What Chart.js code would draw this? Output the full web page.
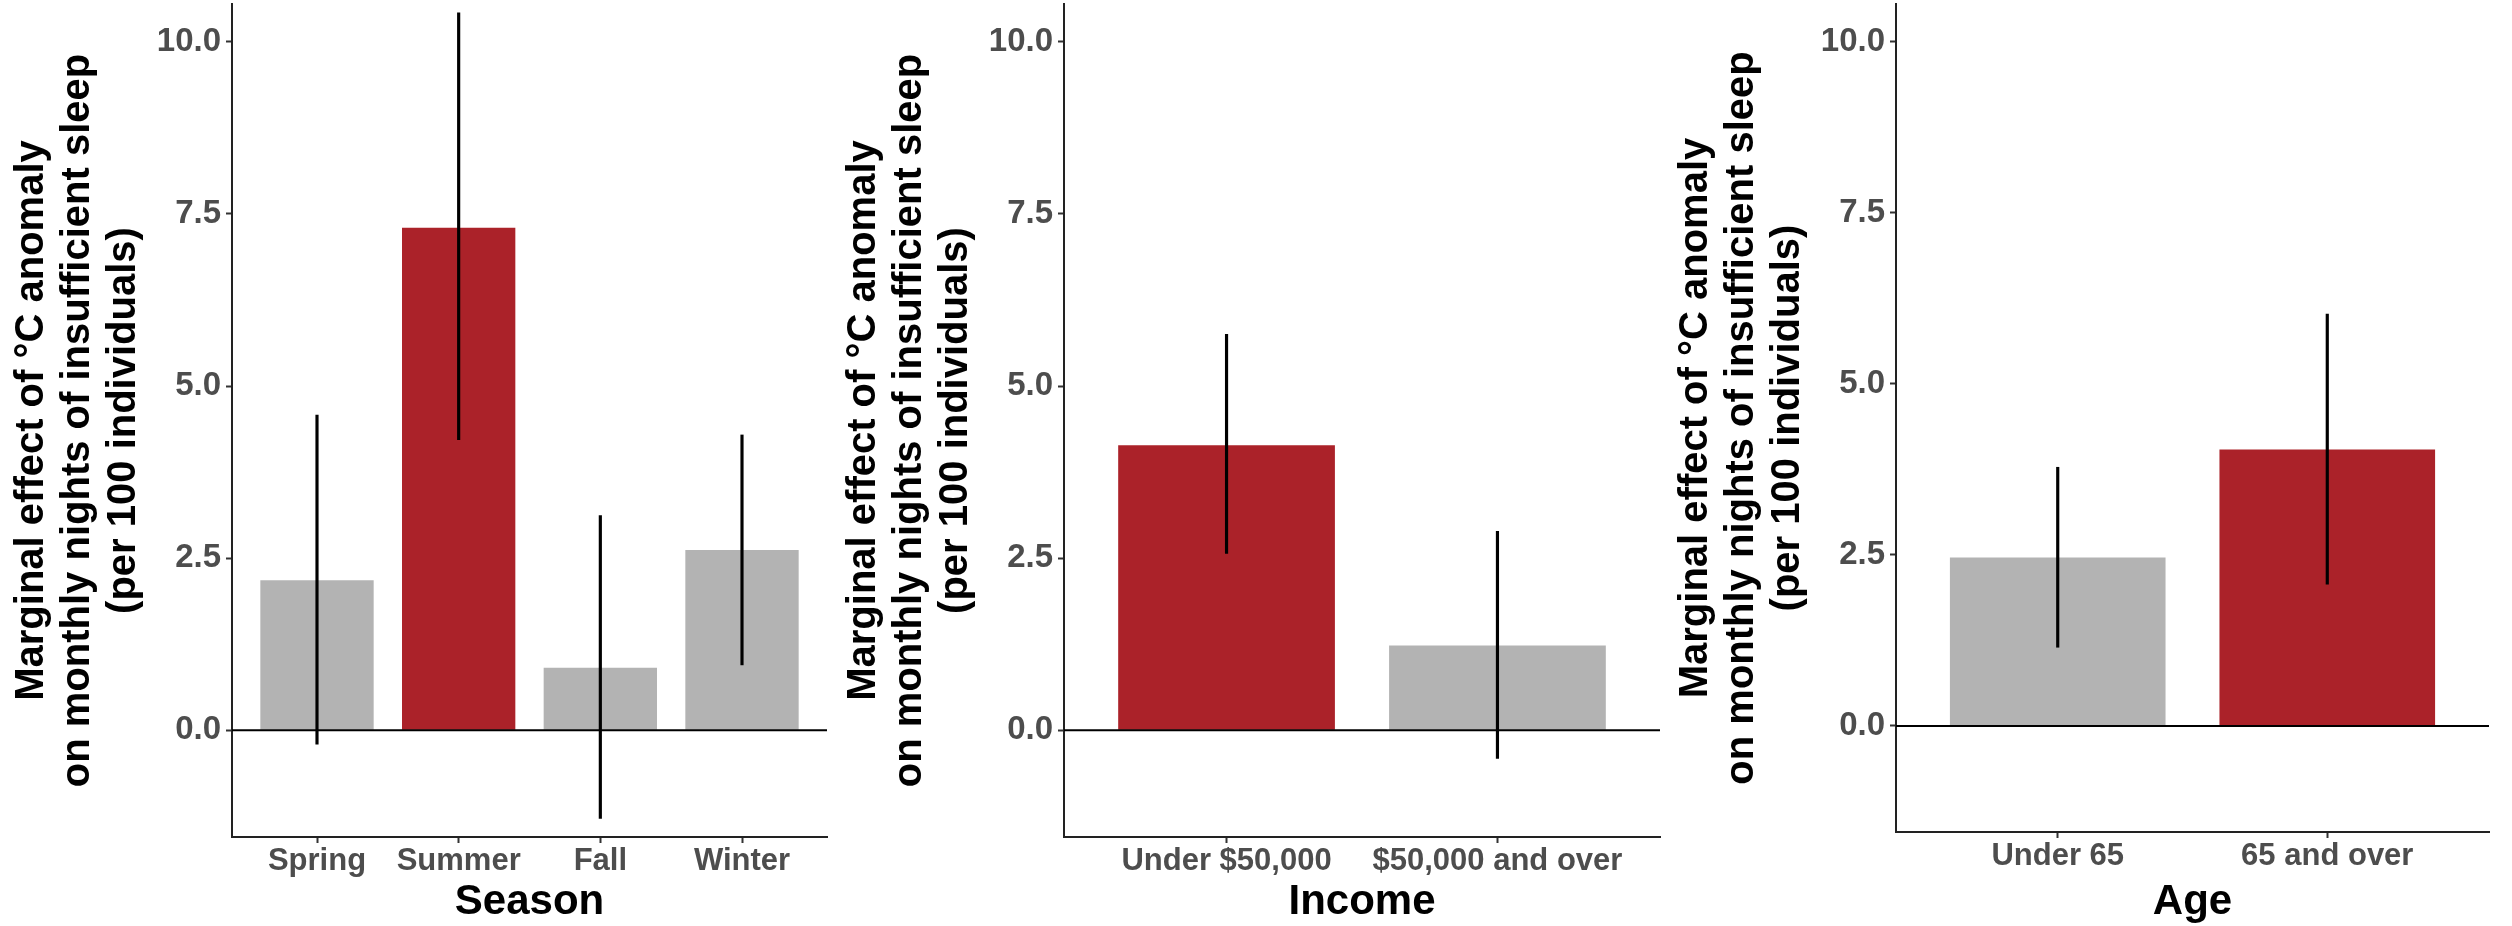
<!DOCTYPE html>
<html>
<head>
<meta charset="utf-8">
<script src="https://cdn.jsdelivr.net/npm/chart.js@4.4.0/dist/chart.umd.min.js"></script>
<style>
  html, body { margin: 0; padding: 0; background: #fff; }
  #wrap { position: relative; width: 2512px; height: 926px; overflow: hidden; }
  .panel { position: absolute; top: 0; }
</style>
</head>
<body>
<div id="wrap">
  <div class="panel" id="p1"><canvas id="c1"></canvas></div>
  <div class="panel" id="p2"><canvas id="c2"></canvas></div>
  <div class="panel" id="p3"><canvas id="c3"></canvas></div>
</div>
<script>
// values
const seasonLabels = ['Spring', 'Summer', 'Fall', 'Winter'];
const seasonEffect = [2.18, 7.30, 0.91, 2.62];
const seasonLow = [-0.20, 4.22, -1.28, 0.95];
const seasonHigh = [4.58, 10.42, 3.12, 4.29];

const incomeLabels = ['Under $50,000', '$50,000 and over'];
const incomeEffect = [4.14, 1.23];
const incomeLow = [2.57, -0.41];
const incomeHigh = [5.75, 2.89];

const ageLabels = ['Under 65', '65 and over'];
const ageEffect = [2.46, 4.04];
const ageLow = [1.15, 2.07];
const ageHigh = [3.78, 6.02];

const yTicks = [0, 2.5, 5, 7.5, 10];
const yTitle = [
    'Marginal effect of \u00B0C anomaly',
    'on monthly nights of insufficient sleep',
    '(per 100 individuals)'
];

const RED = '#AB2229';
const GREY = '#B3B3B3';
const FONT = '"Liberation Sans", Arial, Helvetica, sans-serif';

// horizontal line at y = 0 across the panel
const zeroLine = {
    id: 'zeroLine',
    afterDatasetsDraw(chart) {
        const { ctx, chartArea, scales } = chart;
        const y = scales.y.getPixelForValue(0);
        ctx.save();
        ctx.strokeStyle = '#000';
        ctx.lineWidth = 2;
        ctx.beginPath();
        ctx.moveTo(chartArea.left, y);
        ctx.lineTo(chartArea.right, y);
        ctx.stroke();
        ctx.restore();
    }
};

function makePanel(canvasId, boxId, opts) {
    const { labels, effect, low, high, highlight, xTitle, axisX, rightX, bottomY } = opts;
    const yAxisWidth = 232;
    const canvasW = 850;
    const left = axisX - yAxisWidth;
    const box = document.getElementById(boxId);
    box.style.left = left + 'px';
    const cv = document.getElementById(canvasId);
    cv.width = canvasW;
    cv.height = 926;
    cv.style.width = canvasW + 'px';
    cv.style.height = '926px';

    const colors = labels.map((_, i) => i === highlight ? RED : GREY);
    const positions = labels.map((_, i) => i + 1);

    return new Chart(cv, {
        type: 'bar',
        data: {
            datasets: [
                {
                    label: 'ci',
                    data: positions.map((x, i) => ({ x: x, y: [low[i], high[i]] })),
                    backgroundColor: '#000',
                    barThickness: 2.5,
                    grouped: false,
                    order: 0
                },
                {
                    label: 'effect',
                    data: positions.map((x, i) => ({ x: x, y: effect[i] })),
                    backgroundColor: colors,
                    barPercentage: 0.8,
                    categoryPercentage: 1,
                    grouped: false,
                    order: 1
                }
            ]
        },
        options: {
            responsive: false,
            animation: false,
            devicePixelRatio: 1,
            layout: { padding: { top: 4, right: canvasW - (rightX - left), left: 0, bottom: 0 } },
            plugins: { legend: { display: false }, tooltip: { enabled: false } },
            scales: {
                x: {
                    type: 'linear',
                    offset: false,
                    min: 0.4,
                    max: labels.length + 0.6,
                    afterBuildTicks: (s) => { s.ticks = positions.map(v => ({ value: v })); },
                    afterFit: (s) => {
                        s.height = 926 - bottomY;
                        s.paddingLeft = 0;
                        s.paddingRight = 0;
                    },
                    ticks: {
                        callback: (v) => labels[v - 1],
                        color: '#4D4D4D',
                        font: { family: FONT, size: 31, weight: 'bold' },
                        padding: 0,
                        maxRotation: 0,
                        autoSkip: false
                    },
                    grid: { display: true, drawOnChartArea: false, offset: false, tickLength: 6, tickWidth: 2, tickColor: '#333' },
                    border: { display: true, color: '#222', width: 2 },
                    title: {
                        display: true,
                        text: xTitle,
                        color: '#000',
                        font: { family: FONT, size: 42, weight: 'bold', lineHeight: 1.1 },
                        padding: { top: 0, bottom: 0 }
                    }
                },
                y: {
                    type: 'linear',
                    min: -1.55,
                    max: 10.55,
                    afterBuildTicks: (s) => { s.ticks = yTicks.map(v => ({ value: v })); },
                    afterFit: (s) => {
                        s.width = yAxisWidth;
                        // labels sit well inside the range, no extra room needed
                        s.paddingTop = 0;
                        s.paddingBottom = 0;
                    },
                    ticks: {
                        callback: (v) => v.toFixed(1),
                        color: '#4D4D4D',
                        font: { family: FONT, size: 33, weight: 'bold' },
                        padding: 5
                    },
                    grid: { display: true, drawOnChartArea: false, tickLength: 6, tickWidth: 2, tickColor: '#333' },
                    border: { display: true, color: '#222', width: 2 },
                    title: {
                        display: true,
                        text: yTitle,
                        color: '#000',
                        font: { family: FONT, size: 40, weight: 'bold', lineHeight: 1.15 },
                        padding: { top: 9, bottom: 0 }
                    }
                }
            }
        },
        plugins: [zeroLine]
    });
}

makePanel('c1', 'p1', {
    labels: seasonLabels, effect: seasonEffect, low: seasonLow, high: seasonHigh,
    highlight: 1, xTitle: 'Season', axisX: 232, rightX: 827, bottomY: 837
});
makePanel('c2', 'p2', {
    labels: incomeLabels, effect: incomeEffect, low: incomeLow, high: incomeHigh,
    highlight: 0, xTitle: 'Income', axisX: 1064, rightX: 1660, bottomY: 837
});
makePanel('c3', 'p3', {
    labels: ageLabels, effect: ageEffect, low: ageLow, high: ageHigh,
    highlight: 1, xTitle: 'Age', axisX: 1896, rightX: 2489, bottomY: 832
});
</script>
</body>
</html>
